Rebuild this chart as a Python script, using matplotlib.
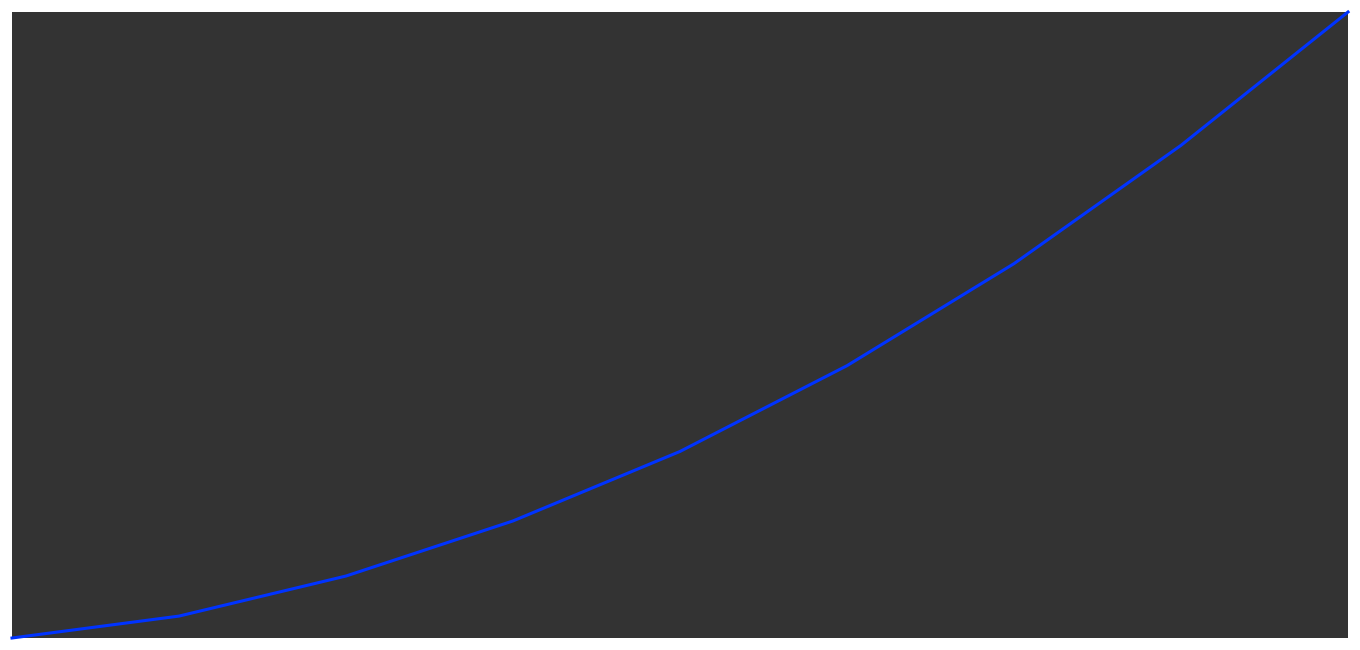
import matplotlib
matplotlib.use('Agg')
import matplotlib.pyplot as plt

# datos
x = [0, 1, 2, 3, 4, 5, 6, 7, 8]
y = [0, 3.5, 9.9, 18.7, 29.8, 43.5, 59.8, 78.7, 100]

fig = plt.figure(figsize=(13.6, 6.5), dpi=100)
ax = fig.add_axes([12/1360, 12/650, 1336/1360, 626/650])
ax.set_facecolor('#333333')
ax.plot(x, y, color='#0033ff', linewidth=2.2, clip_on=False)
ax.set_xlim(x[0], x[-1])
ax.set_ylim(0, 100)
ax.set_xticks([])
ax.set_yticks([])
for s in ax.spines.values():
    s.set_visible(False)

fig.savefig('out.png', dpi=100)
